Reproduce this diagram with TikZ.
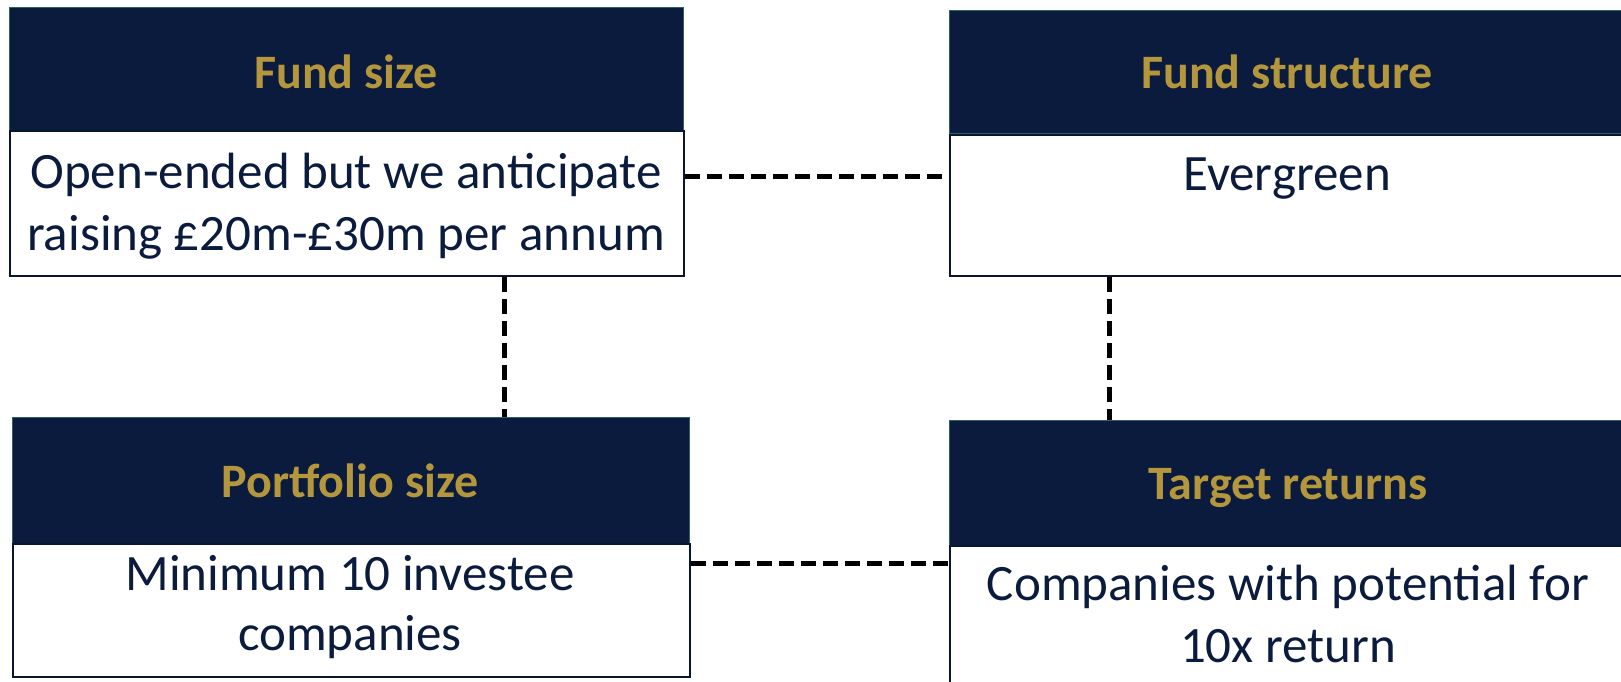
\documentclass[tikz,border=0pt]{standalone}
\usepackage{fontspec}
\setmainfont{Carlito}
\definecolor{navy}{HTML}{0A1B3D}
\definecolor{gold}{HTML}{B4963C}
\definecolor{tealedge}{HTML}{2F5F68}
\definecolor{bodyedge}{HTML}{0A1530}
\tikzset{
  hdr/.style={draw=tealedge, line width=1.2pt, fill=navy, anchor=north west, inner sep=0pt},
  bodybox/.style={draw=bodyedge, line width=2.2pt, fill=white, anchor=north west, inner sep=0pt},
  htext/.style={text=gold, font=\fontsize{48}{57}\selectfont\bfseries, anchor=base, inner sep=0pt},
  btext/.style={text=navy, font=\fontsize{51}{60}\selectfont, anchor=base, inner sep=0pt},
  conn/.style={line width=5pt, dash pattern=on 15pt off 7pt, black}
}
\begin{document}
\begin{tikzpicture}[x=1pt,y=-1pt]
\clip (0,0) rectangle (1621,681);
\fill[white] (0,0) rectangle (1621,681);
% Fund size
\node[hdr, minimum width=674pt, minimum height=123pt] (h1) at (9,7) {};
\node[bodybox, minimum width=674pt, minimum height=145pt] (b1) at (9,130) {};
% Fund structure
\node[hdr, minimum width=676pt, minimum height=123pt] (h2) at (949,10) {};
\node[bodybox, minimum width=676pt, minimum height=141pt] (b2) at (949,134) {};
% Portfolio size
\node[hdr, minimum width=677pt, minimum height=126pt] (h3) at (12,417) {};
\node[bodybox, minimum width=677pt, minimum height=133pt] (b3) at (12,543) {};
% Target returns
\node[hdr, minimum width=676pt, minimum height=125pt] (h4) at (949,420) {};
\node[bodybox, minimum width=676pt, minimum height=150pt] (b4) at (949,545) {};
% texts
\node[htext] (t1) at (346,88) {Fund size};
\node[btext] (l1a) at (346,188) {Open-ended but we anticipate};
\node[btext] (l1b) at (346,250) {raising £20m-£30m per annum};
\node[htext] (t2) at (1287,88) {Fund structure};
\node[btext] (l2a) at (1287,190) {Evergreen};
\node[htext] (t3) at (350,497) {Portfolio size};
\node[btext] (l3a) at (350,590) {Minimum 10 investee};
\node[btext] (l3b) at (350,650) {companies};
\node[htext] (t4) at (1288,499) {Target returns};
\node[btext] (l4a) at (1288,600) {Companies with potential for};
\node[btext] (l4b) at (1288,662) {10x return};
% connectors
\coordinate (y1) at (0,176);
\coordinate (y2) at (0,563);
\coordinate (x1) at (504,0);
\coordinate (x2) at (1109,0);
\draw[conn] (b1.east |- y1) -- (b2.west |- y1);
\draw[conn] (b3.east |- y2) -- (b4.west |- y2);
\draw[conn] (b1.south -| x1) -- (h3.north -| x1);
\draw[conn] (b2.south -| x2) -- (h4.north -| x2);
\end{tikzpicture}
\end{document}
